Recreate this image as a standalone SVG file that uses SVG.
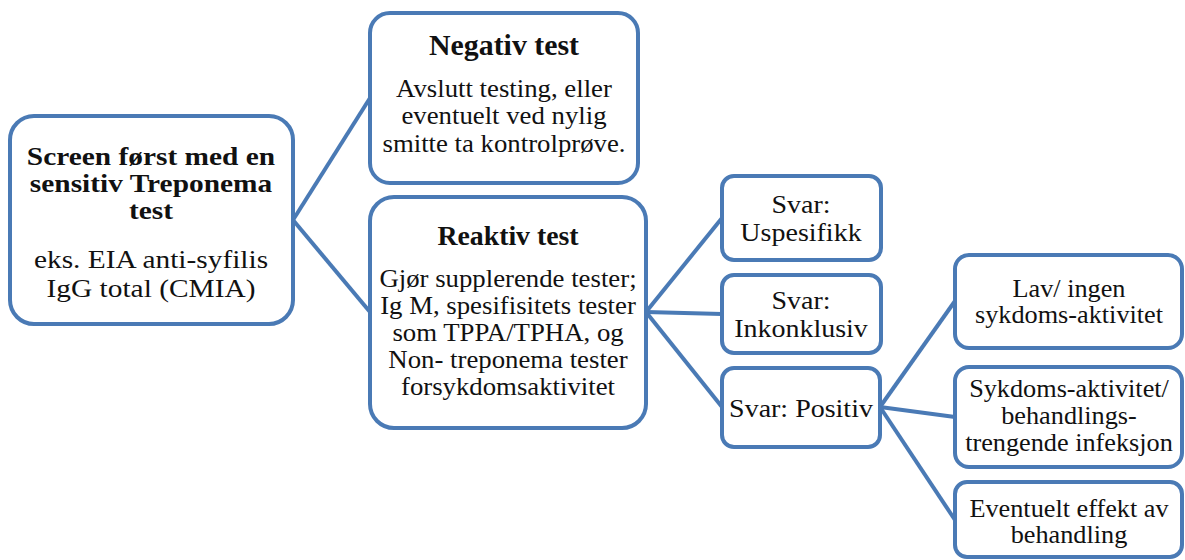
<svg xmlns="http://www.w3.org/2000/svg" width="1185" height="560" viewBox="0 0 1185 560">
<style>
.box{fill:#fff;stroke:#4a7ab5;stroke-width:4}
.ln{fill:none;stroke:#4a7ab5;stroke-width:4}
text{font-family:"Liberation Serif","Times New Roman",serif;fill:#111;text-anchor:middle;font-size:26px}
.b{font-weight:bold}
</style>
<rect width="1185" height="560" fill="#fff"/>
<g id="connectors">
<line class="ln" x1="293" y1="220" x2="370" y2="98"/>
<line class="ln" x1="293" y1="220" x2="370" y2="312"/>
<line class="ln" x1="646" y1="312" x2="722" y2="218"/>
<line class="ln" x1="646" y1="312" x2="722" y2="314"/>
<line class="ln" x1="646" y1="312" x2="722" y2="407"/>
<line class="ln" x1="880" y1="407" x2="955" y2="301"/>
<line class="ln" x1="880" y1="407" x2="955" y2="417"/>
<line class="ln" x1="880" y1="407" x2="955" y2="520"/>
</g>
<g id="screen">
<rect class="box" x="10" y="116" width="283" height="208" rx="24"/>
<text transform="translate(151,0) scale(1.13,1)"><tspan class="b" x="0" y="165">Screen først med en</tspan><tspan class="b" x="0" y="192">sensitiv  Treponema</tspan><tspan class="b" x="0" y="219">test</tspan><tspan x="0" y="268">eks. EIA anti-syfilis</tspan><tspan x="0" y="297">IgG total (CMIA)</tspan></text>
</g>
<g id="negativ">
<rect class="box" x="370" y="13" width="268" height="170" rx="20"/>
<text transform="translate(504,0) scale(1.03,1)"><tspan class="b" x="0" y="55" style="font-size:29px">Negativ test</tspan><tspan x="0" y="97">Avslutt testing, eller</tspan><tspan x="0" y="124">eventuelt ved nylig</tspan><tspan x="0" y="152">smitte ta kontrolprøve.</tspan></text>
</g>
<g id="reaktiv">
<rect class="box" x="370" y="197" width="276" height="231" rx="24"/>
<text transform="translate(508,0) scale(1.03,1)"><tspan class="b" x="0" y="245" style="font-size:27px">Reaktiv test</tspan><tspan x="0" y="287">Gjør supplerende  tester;</tspan><tspan x="0" y="314">Ig M, spesifisitets tester</tspan><tspan x="0" y="341">som TPPA/TPHA, og</tspan><tspan x="0" y="368">Non- treponema tester</tspan><tspan x="0" y="395">forsykdomsaktivitet</tspan></text>
</g>
<g id="uspesifikk">
<rect class="box" x="722" y="176" width="159" height="84" rx="12"/>
<text transform="translate(801,0) scale(1.12,1)" style="font-size:25px"><tspan x="0" y="213">Svar:</tspan><tspan x="0" y="241">Uspesifikk</tspan></text>
</g>
<g id="inkonklusiv">
<rect class="box" x="722" y="275" width="159" height="78" rx="12"/>
<text transform="translate(801,0) scale(1.12,1)" style="font-size:25px"><tspan x="0" y="309">Svar:</tspan><tspan x="0" y="337">Inkonklusiv</tspan></text>
</g>
<g id="positiv">
<rect class="box" x="722" y="368" width="158" height="79" rx="12"/>
<text transform="translate(801,0) scale(1.12,1)" style="font-size:25px"><tspan x="0" y="417">Svar: Positiv</tspan></text>
</g>
<g id="lav">
<rect class="box" x="955" y="255" width="227" height="93" rx="14"/>
<text transform="translate(1069,0) scale(1.05,1)" style="font-size:25px"><tspan x="0" y="297">Lav/ ingen</tspan><tspan x="0" y="323">sykdoms-aktivitet</tspan></text>
</g>
<g id="sykdoms">
<rect class="box" x="955" y="367" width="227" height="100" rx="14"/>
<text transform="translate(1069,0) scale(1.05,1)" style="font-size:25px"><tspan x="0" y="397">Sykdoms-aktivitet/</tspan><tspan x="0" y="424">behandlings-</tspan><tspan x="0" y="451">trengende infeksjon</tspan></text>
</g>
<g id="eventuelt">
<rect class="box" x="955" y="482" width="227" height="75" rx="12"/>
<text transform="translate(1069,0) scale(1.05,1)" style="font-size:25px"><tspan x="0" y="517">Eventuelt effekt av</tspan><tspan x="0" y="543">behandling</tspan></text>
</g>
</svg>
